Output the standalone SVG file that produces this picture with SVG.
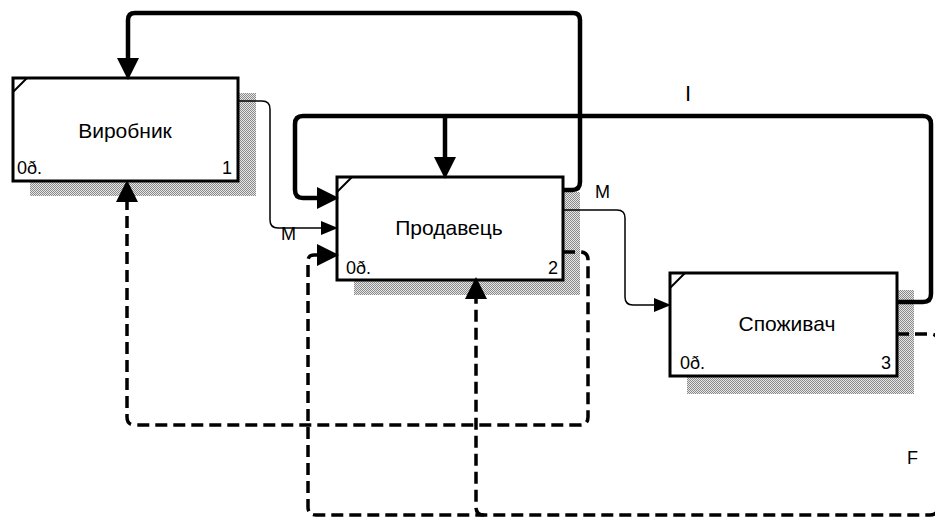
<svg xmlns="http://www.w3.org/2000/svg" width="935" height="519" viewBox="0 0 935 519">
<style>
.box{fill:#fff;stroke:#000;stroke-width:3}
.shadow{fill:url(#hatch)}
.corner{stroke:#000;stroke-width:2;fill:none}
.title{font-family:"Liberation Sans",Arial,sans-serif;font-size:21px;text-anchor:middle;fill:#000}
.small{font-family:"Liberation Sans",Arial,sans-serif;font-size:18px;fill:#000}
.num{font-family:"Liberation Sans",Arial,sans-serif;font-size:18px;text-anchor:end;fill:#000}
.lbl{font-family:"Liberation Sans",Arial,sans-serif;font-size:18px;fill:#000}
.thick{fill:none;stroke:#000;stroke-width:4.5}
.thin{fill:none;stroke:#000;stroke-width:1.5}
.dash{fill:none;stroke:#000;stroke-width:3.5;stroke-dasharray:12 6}
</style>
<defs>
<pattern id="hatch" width="2" height="2" patternUnits="userSpaceOnUse">
<rect width="2" height="2" fill="#e6e6e6"/>
<rect width="1" height="1" fill="#8a8a8a"/>
<rect x="1" y="1" width="1" height="1" fill="#8a8a8a"/>
</pattern>
<marker id="bigArrow" markerUnits="userSpaceOnUse" markerWidth="22" markerHeight="22" refX="0" refY="10" orient="auto" viewBox="0 0 20 20">
<path d="M0,0 L20,10 L0,20 z" fill="#000"/>
</marker>
<marker id="smallArrow" markerUnits="userSpaceOnUse" markerWidth="17" markerHeight="14" refX="0" refY="7" orient="auto" viewBox="0 0 17 14">
<path d="M0,0 L17,7 L0,14 z" fill="#000"/>
</marker>
</defs>
<rect width="935" height="519" fill="#fff"/>

<g id="node1">
<rect class="shadow" x="30" y="93" width="226" height="103"/>
<rect class="box" x="13" y="78" width="225" height="103"/>
<line class="corner" x1="13" y1="92" x2="27" y2="78"/>
<text class="title" x="125" y="138">Виробник</text>
<text class="small" x="17" y="174">0ð.</text>
<text class="num" x="232" y="174">1</text>
</g>

<g id="node2">
<rect class="shadow" x="354" y="192" width="226" height="103"/>
<rect class="box" x="337" y="177" width="226" height="103"/>
<line class="corner" x1="337" y1="192" x2="352" y2="177"/>
<text class="title" x="449" y="235">Продавець</text>
<text class="small" x="346" y="274">0ð.</text>
<text class="num" x="558" y="274">2</text>
</g>

<g id="node3">
<rect class="shadow" x="687" y="290" width="227" height="104"/>
<rect class="box" x="670" y="273" width="227" height="103"/>
<line class="corner" x1="670" y1="288" x2="685" y2="273"/>
<text class="title" x="787" y="331">Споживач</text>
<text class="small" x="680" y="369">0ð.</text>
<text class="num" x="891" y="369">3</text>
</g>

<g id="connectors">
<path class="thick" d="M563,190 L572,190 Q580,190 580,182 L580,20 Q580,13 573,13 L135,13 Q128,13 128,20 L128,58" marker-end="url(#bigArrow)"/>
<path class="thick" d="M897,302 L923,302 Q931,302 931,294 L931,124 Q931,116 923,116 L303,116 Q295,116 295,124 L295,190 Q295,198 303,198 L317,198" marker-end="url(#bigArrow)"/>
<path class="thick" d="M445,116 L445,157" marker-end="url(#bigArrow)"/>
<path class="thin" d="M238,101 L262,101 Q270,101 270,109 L270,220 Q270,228 278,228 L321,228" marker-end="url(#smallArrow)"/>
<path class="thin" d="M563,210 L617,210 Q625,210 625,218 L625,297 Q625,305 633,305 L654,305" marker-end="url(#smallArrow)"/>
<path class="dash" d="M563,252 L580,252 Q588,252 588,260 L588,417 Q588,425 580,425 L135,425 Q127,425 127,417 L127,202" marker-end="url(#bigArrow)"/>
<path class="dash" d="M897,334 L930,334 Q938,334 938,342 L938,507 Q938,515 930,515 L316,515 Q308,515 308,507 L308,261 Q308,255 314,255 L317,255" marker-end="url(#bigArrow)"/>
<path class="dash" d="M484,515 Q476,515 476,507 L476,299" marker-end="url(#bigArrow)"/>
<text class="lbl" x="281" y="240">M</text>
<text class="lbl" x="595" y="198">M</text>
<text class="lbl" x="685" y="101" style="font-size:22px">I</text>
<text class="lbl" x="907" y="464">F</text>
</g>
</svg>
